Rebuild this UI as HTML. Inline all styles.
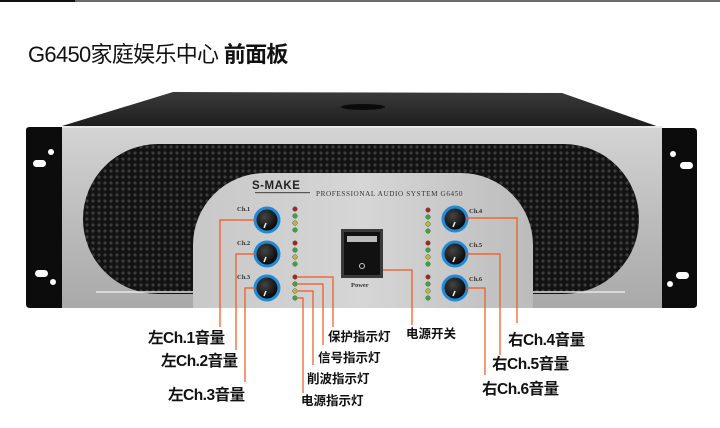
<!DOCTYPE html>
<html><head><meta charset="utf-8"><style>
html,body{margin:0;padding:0;background:#fff;width:720px;height:428px;overflow:hidden}
svg{display:block}
.t{font-family:"Liberation Sans","Noto Sans CJK SC",sans-serif}
</style></head><body>
<svg width="720" height="428" viewBox="0 0 720 428" xmlns="http://www.w3.org/2000/svg">
<defs>
<linearGradient id="silver" x1="0" y1="0" x2="0" y2="1">
<stop offset="0" stop-color="#d4d4d4"/><stop offset="0.5" stop-color="#bdbdbd"/><stop offset="1" stop-color="#a9a9a9"/>
</linearGradient>
<linearGradient id="silver2" x1="0" y1="0" x2="1" y2="0">
<stop offset="0" stop-color="#c8c8c8"/><stop offset="0.5" stop-color="#d6d6d6"/><stop offset="1" stop-color="#bcbcbc"/>
</linearGradient>
<linearGradient id="top" x1="0" y1="0" x2="0" y2="1">
<stop offset="0" stop-color="#3a3a3a"/><stop offset="1" stop-color="#1c1c1c"/>
</linearGradient>
<pattern id="grid" width="6" height="6" patternUnits="userSpaceOnUse">
<rect width="6" height="6" fill="#121212"/><circle cx="3" cy="3" r="1.6" fill="#3c3c3c"/>
</pattern>
<radialGradient id="knob" cx="0.4" cy="0.35" r="0.7">
<stop offset="0" stop-color="#444"/><stop offset="1" stop-color="#050505"/>
</radialGradient>
<clipPath id="front"><rect x="62" y="126" width="600" height="182"/></clipPath>
</defs>
<rect x="0" y="0" width="720" height="2" fill="#6a6a66"/>
<rect x="0" y="0" width="75" height="2" fill="#111"/>
<text class="t" x="28" y="62" font-size="22" fill="#111" letter-spacing="-0.7">G6450家庭娱乐中心 <tspan font-weight="bold">前面板</tspan></text>

<polygon points="173,92 562,93 662,128 62,126" fill="url(#top)"/>
<ellipse cx="363" cy="107" rx="22" ry="3" fill="#0a0a0a"/>
<path d="M26,130 Q26,127 30,127 L62,127 L62,308 L30,308 Q26,308 26,304 Z" fill="#0c0c0c"/>
<path d="M662,128 L693,128 Q697,128 697,132 L697,304 Q697,308 693,308 L662,308 Z" fill="#0c0c0c"/>
<circle cx="51" cy="152" r="3" fill="#fff"/><rect x="33" y="160" width="13" height="7" rx="3.5" fill="#fff"/>
<circle cx="53" cy="282" r="3" fill="#fff"/><rect x="35" y="270" width="13" height="7" rx="3.5" fill="#fff"/>
<circle cx="673" cy="154" r="3" fill="#fff"/><rect x="680" y="162" width="13" height="7" rx="3.5" fill="#fff"/>
<circle cx="670" cy="284" r="3" fill="#fff"/><rect x="676" y="272" width="13" height="7" rx="3.5" fill="#fff"/>
<rect x="62" y="126" width="600" height="182" fill="url(#silver)"/>
<rect x="62" y="126" width="600" height="2" fill="#e8e8e8"/>
<rect x="83" y="144" width="556" height="150" rx="75" fill="url(#grid)"/>
<path d="M96,292 L625,292" stroke="#e6e6e6" stroke-width="1.5"/>
<g clip-path="url(#front)">
<rect x="193" y="173" width="340" height="200" rx="72" fill="url(#silver2)"/>
</g>
<text x="252" y="189" font-family="Liberation Sans,sans-serif" font-weight="bold" font-size="11.5" fill="#222" letter-spacing="0.5">S-MAKE</text>
<rect x="255" y="192" width="55" height="1.2" fill="#555"/>
<text x="316" y="196" font-family="Liberation Serif,serif" font-size="7.2" fill="#333" letter-spacing="0.6">PROFESSIONAL AUDIO SYSTEM  G6450</text>
<g font-family="Liberation Serif,serif" font-size="6.5" font-weight="bold" fill="#333">
<text x="237" y="211">Ch.1</text><text x="237" y="245">Ch.2</text><text x="237" y="279">Ch.3</text>
<text x="469" y="213">Ch.4</text><text x="469" y="247">Ch.5</text><text x="469" y="281">Ch.6</text>
</g>
<g>
<circle cx="267" cy="220" r="13.5" fill="#1f8bd6"/><circle cx="267" cy="220" r="10.5" fill="url(#knob)"/>
<circle cx="267" cy="254" r="13.5" fill="#1f8bd6"/><circle cx="267" cy="254" r="10.5" fill="url(#knob)"/>
<circle cx="267" cy="288" r="13.5" fill="#1f8bd6"/><circle cx="267" cy="288" r="10.5" fill="url(#knob)"/>
<circle cx="455" cy="219" r="13.5" fill="#1f8bd6"/><circle cx="455" cy="219" r="10.5" fill="url(#knob)"/>
<circle cx="455" cy="254" r="13.5" fill="#1f8bd6"/><circle cx="455" cy="254" r="10.5" fill="url(#knob)"/>
<circle cx="455" cy="288" r="13.5" fill="#1f8bd6"/><circle cx="455" cy="288" r="10.5" fill="url(#knob)"/>
<g stroke="#eee" stroke-width="1.5">
<line x1="264" y1="228" x2="266" y2="223"/><line x1="264" y1="262" x2="266" y2="257"/><line x1="264" y1="296" x2="266" y2="291"/>
<line x1="453" y1="227" x2="455" y2="222"/><line x1="453" y1="262" x2="455" y2="257"/><line x1="453" y1="296" x2="455" y2="291"/>
</g>
</g>
<g stroke="#555" stroke-width="0.5">
<g transform="translate(295,0)">
<circle cy="209" r="2.3" fill="#a22"/><circle cy="216" r="2.3" fill="#3a3"/><circle cy="223" r="2.3" fill="#bb3"/><circle cy="230" r="2.3" fill="#3a3"/>
<circle cy="243" r="2.3" fill="#a22"/><circle cy="250" r="2.3" fill="#3a3"/><circle cy="257" r="2.3" fill="#bb3"/><circle cy="264" r="2.3" fill="#3a3"/>
<circle cy="277" r="2.3" fill="#a22"/><circle cy="284" r="2.3" fill="#3a3"/><circle cy="291" r="2.3" fill="#bb3"/><circle cy="298" r="2.3" fill="#3a3"/>
</g>
<g transform="translate(428,0)">
<circle cy="210" r="2.3" fill="#a22"/><circle cy="217" r="2.3" fill="#3a3"/><circle cy="224" r="2.3" fill="#bb3"/><circle cy="231" r="2.3" fill="#3a3"/>
<circle cy="243" r="2.3" fill="#a22"/><circle cy="250" r="2.3" fill="#3a3"/><circle cy="257" r="2.3" fill="#bb3"/><circle cy="264" r="2.3" fill="#3a3"/>
<circle cy="277" r="2.3" fill="#a22"/><circle cy="284" r="2.3" fill="#3a3"/><circle cy="291" r="2.3" fill="#bb3"/><circle cy="298" r="2.3" fill="#3a3"/>
</g>
</g>
<rect x="341" y="229" width="42" height="49" fill="#3a3a3a"/>
<rect x="344" y="232" width="36" height="43" fill="#111"/>
<rect x="347" y="236" width="30" height="6" fill="#bbb"/>
<circle cx="362" cy="266" r="2.5" fill="none" stroke="#ccc" stroke-width="1"/>
<text x="351" y="287" font-family="Liberation Serif,serif" font-size="6.5" font-weight="bold" fill="#333">Power</text>
<g fill="none" stroke="#f0561c" stroke-width="1.2">
<polyline points="256,220 220,220 220,327"/>
<polyline points="256,254 236,254 236,350"/>
<polyline points="256,288 245,288 245,382"/>
<polyline points="298,277 333,277 333,327"/>
<polyline points="298,284 323,284 323,345"/>
<polyline points="298,291 313,291 313,365"/>
<polyline points="298,298 303,298 303,393"/>
<polyline points="383,270 412,270 412,325"/>
<polyline points="466,218 517,218 517,323"/>
<polyline points="466,254 500,254 500,355"/>
<polyline points="466,288 485,288 485,375"/>
</g>
<g class="t" font-size="15.5" fill="#111" font-weight="bold" letter-spacing="-0.5">
<text x="148" y="343">左Ch.1音量</text>
<text x="161" y="366">左Ch.2音量</text>
<text x="168" y="400">左Ch.3音量</text>
<text x="508" y="345">右Ch.4音量</text>
<text x="492" y="369">右Ch.5音量</text>
<text x="482" y="394">右Ch.6音量</text>
</g>
<g class="t" font-size="12.5" fill="#111" font-weight="bold">
<text x="328" y="341">保护指示灯</text>
<text x="318" y="362">信号指示灯</text>
<text x="307" y="383">削波指示灯</text>
<text x="301" y="405">电源指示灯</text>
<text x="406" y="338">电源开关</text>
</g>
</svg>
</body></html>
